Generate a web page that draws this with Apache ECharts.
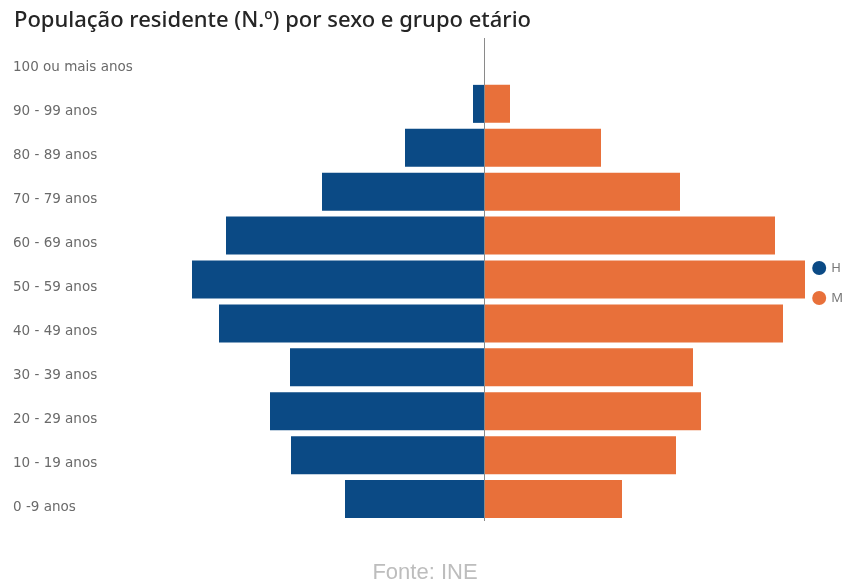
<!DOCTYPE html>
<html>
<head>
<meta charset="utf-8">
<script src="https://cdn.jsdelivr.net/npm/echarts@6/dist/echarts.min.js"></script>
<style>
  html, body { margin: 0; padding: 0; background: #fff; }
  #chart { width: 850px; height: 587px; }
</style>
</head>
<body>
<div id="chart"></div>
<script>
// grupos etários (de baixo para cima)
var grupos = ['0 -9 anos', '10 - 19 anos', '20 - 29 anos', '30 - 39 anos', '40 - 49 anos',
  '50 - 59 anos', '60 - 69 anos', '70 - 79 anos', '80 - 89 anos', '90 - 99 anos', '100 ou mais anos'];
// homens (N.º)
var homens = [1390, 1930, 2140, 1940, 2650, 2920, 2580, 1620, 790, 110, 0];
// mulheres (N.º)
var mulheres = [1380, 1920, 2170, 2090, 2990, 3210, 2910, 1960, 1170, 260, 0];

var maxVal = 3400;

var chart = echarts.init(document.getElementById('chart'));
var option = {
  title: {
    text: 'População residente (N.º) por sexo e grupo etário',
    left: 9,
    top: 5,
    textStyle: { fontFamily: 'Noto Sans', fontSize: 22, fontWeight: 500, color: '#252525' }
  },
  legend: {
    orient: 'vertical',
    right: 2,
    top: 256,
    icon: 'circle',
    itemWidth: 14,
    itemHeight: 14,
    itemGap: 16,
    textStyle: { color: '#777', fontSize: 13, fontFamily: 'Noto Sans' },
    data: ['H', 'M']
  },
  grid: { left: 144, right: 26, top: 38, bottom: 66 },
  xAxis: {
    type: 'value',
    min: -maxVal,
    max: maxVal,
    show: false
  },
  yAxis: {
    type: 'category',
    data: grupos,
    axisLine: { show: false },
    axisTick: { show: false },
    axisLabel: {
      align: 'left',
      verticalAlign: 'top',
      margin: 131,
      color: '#6a6a6a',
      fontSize: 13.5,
      fontFamily: 'DejaVu Sans',
      padding: [1, 0, 0, 0]
    }
  },
  series: [
    {
      name: 'H',
      type: 'bar',
      stack: 'total',
      barWidth: 38,
      itemStyle: { color: '#0b4a85' },
      data: homens.map(function (v) { return -v; }),
      markLine: {
        silent: true,
        symbol: 'none',
        label: { show: false },
        lineStyle: { color: '#8a8a8a', width: 1, type: 'solid' },
        data: [{ xAxis: 0 }]
      }
    },
    {
      name: 'M',
      type: 'bar',
      stack: 'total',
      barWidth: 38,
      itemStyle: { color: '#e8703a' },
      data: mulheres
    }
  ],
  graphic: [{
    type: 'text',
    left: 'center',
    top: 562,
    style: { text: 'Fonte: INE', fill: '#bdbdbd', fontSize: 22, fontFamily: 'Liberation Sans' }
  }]
};
chart.setOption(option);
</script>
</body>
</html>
